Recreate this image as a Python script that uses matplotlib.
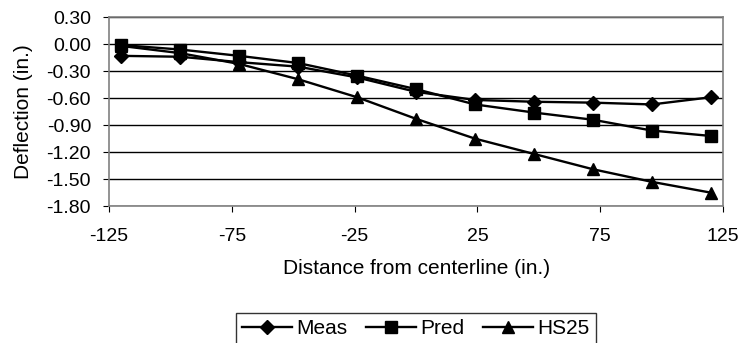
import numpy as np
import matplotlib.pyplot as plt

plt.rcParams['font.family'] = ['Liberation Sans', 'DejaVu Sans']
plt.rcParams['axes.unicode_minus'] = False

# distance from centerline (in.)
dist = [-120, -96, -72, -48, -24, 0, 24, 48, 72, 96, 120]
# deflection (in.)
meas = [-0.13, -0.14, -0.20, -0.25, -0.37, -0.53, -0.62, -0.64, -0.65, -0.67, -0.59]
pred = [-0.01, -0.06, -0.13, -0.21, -0.35, -0.50, -0.67, -0.76, -0.84, -0.96, -1.02]
hs25 = [-0.02, -0.10, -0.22, -0.39, -0.59, -0.83, -1.05, -1.22, -1.39, -1.53, -1.65]

xticks = [-125, -75, -25, 25, 75, 125]
yticks = [0.30, 0.00, -0.30, -0.60, -0.90, -1.20, -1.50, -1.80]

fig = plt.figure(figsize=(7.47, 3.43), dpi=100)
ax = fig.add_axes([0.146, 0.399, 0.822, 0.551])

ax.plot(dist, meas, color='black', lw=1.7, marker='D', ms=7, label='Meas')
ax.plot(dist, pred, color='black', lw=1.7, marker='s', ms=8.5, label='Pred')
ax.plot(dist, hs25, color='black', lw=1.7, marker='^', ms=9, label='HS25')

ax.set_xlim(-125, 125)
ax.set_ylim(-1.80, 0.30)
ax.set_xticks(xticks)
ax.set_yticks(yticks)
ax.set_yticklabels(['%.2f' % v for v in yticks])
ax.yaxis.grid(True, color='black', lw=1)
ax.set_axisbelow(True)
for s in ax.spines.values():
    s.set_color('#808080')
    s.set_linewidth(1.2)
ax.tick_params(labelsize=14, direction='out', length=4, color='black')
ax.tick_params(axis='x', pad=12)
ax.tick_params(axis='y', pad=9)

ax.set_xlabel('Distance from centerline (in.)', fontsize=15, labelpad=10)
ax.set_ylabel('Deflection (in.)', fontsize=15, labelpad=10)

leg = fig.legend(*ax.get_legend_handles_labels(), loc='upper center',
                 bbox_to_anchor=(416 / 747, 1 - 313 / 343), ncol=3,
                 fontsize=15, frameon=True, fancybox=False, handlelength=2.4,
                 handletextpad=0.2, columnspacing=0.9, borderpad=0.3,
                 borderaxespad=0)
leg.get_frame().set_edgecolor('black')
leg.get_frame().set_linewidth(1)

fig.savefig('out.png', dpi=100)
